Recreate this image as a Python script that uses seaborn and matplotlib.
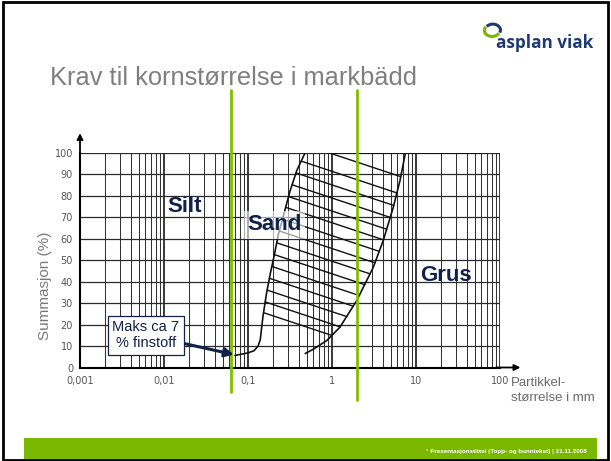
import numpy as np
import pandas as pd
import seaborn as sns
import matplotlib
matplotlib.use("Agg")
import matplotlib.pyplot as plt
from matplotlib.patches import Rectangle, Arc
from matplotlib.transforms import blended_transform_factory

# grensekurver for markbädd-sand
venstre_x = [0.07, 0.10, 0.118, 0.132, 0.14, 0.151, 0.167, 0.185, 0.205, 0.23, 0.27, 0.316, 0.38, 0.48]
venstre_y = [5.6, 6.8, 7.8, 10, 13, 24, 35, 44, 52, 62, 72, 82, 91.5, 100]
hoyre_x = [0.48, 0.6, 0.87, 1.24, 1.96, 3.1, 4.07, 5.37, 6.45, 7.5]
hoyre_y = [6.5, 8.5, 12.6, 18.7, 31, 46.6, 59, 74.6, 87, 100]
topp_x = [0.9, 60]
topp_y = [100, 100]

# skravur: startnivå på venstre kurve og helning (% per dekade)
skravur_nivaa = [96, 90.5, 85, 79.5, 74.5, 69, 63.5, 58, 52.5, 47, 41.5, 36, 30.5, 25.5]
skravur_helning = -13.0

# grenser silt/sand og sand/grus
grenser = [0.063, 2.0]

x_ticks = [0.001, 0.01, 0.1, 1, 10, 100]
x_labels = ["0,001", "0,01", "0,1", "1", "10", "100"]
y_ticks = list(range(0, 101, 10))

navy = "#10224a"
gronn = "#84bd00"

sns.set_style("white")
plt.rcParams['font.family'] = ['Liberation Sans', 'DejaVu Sans']

fig = plt.figure(figsize=(6.11, 4.61), dpi=100)
ax = fig.add_axes([80/611, 1-367.5/461, 420/611, 215/461])
ax.set_xscale("log")
ax.set_xlim(0.001, 100)
ax.set_ylim(0, 100)

# rutenett
ax.set_xticks(x_ticks)
ax.set_xticks([m*10.0**e for e in range(-3, 2) for m in range(2, 10)], minor=True)
ax.set_yticks(y_ticks)
ax.grid(True, which="major", axis="x", color="#2a2a2a", lw=1.3)
ax.grid(True, which="minor", axis="x", color="#333333", lw=0.75)
ax.grid(True, which="major", axis="y", color="#2a2a2a", lw=0.9)
ax.set_xticklabels(x_labels, family="DejaVu Sans", fontsize=7, color="#555555")
ax.set_yticklabels([str(v) for v in y_ticks], family="DejaVu Sans", fontsize=7, color="#555555")
ax.tick_params(axis="both", which="both", length=0)
ax.tick_params(axis="x", pad=6)
ax.tick_params(axis="y", pad=5)
ax.xaxis.set_minor_formatter(matplotlib.ticker.NullFormatter())
for s in ["top", "right"]:
    ax.spines[s].set_visible(False)
for s in ["left", "bottom"]:
    ax.spines[s].set_color("black")
    ax.spines[s].set_linewidth(1.5)

# pilspisser på aksene
ax.annotate("", xy=(0.001, 109), xytext=(0.001, 99), annotation_clip=False,
            arrowprops=dict(arrowstyle="-|>", color="black", lw=1.3, mutation_scale=9, shrinkA=0, shrinkB=0))
ax.annotate("", xy=(175, 0), xytext=(90, 0), annotation_clip=False,
            arrowprops=dict(arrowstyle="-|>", color="black", lw=1.3, mutation_scale=9, shrinkA=0, shrinkB=0))

# kurver
kurver = pd.DataFrame({
    "x": venstre_x + hoyre_x + topp_x,
    "y": venstre_y + hoyre_y + topp_y,
    "kurve": ["venstre"]*len(venstre_x) + ["hoyre"]*len(hoyre_x) + ["topp"]*len(topp_x),
})
sns.lineplot(data=kurver, x="x", y="y", units="kurve", estimator=None, sort=False,
             color="#111111", lw=1.2, ax=ax, legend=False)
ax.set_xlabel("")
ax.set_ylabel("")

# skravur mellom kurvene
lu = np.log10(venstre_x)
ru = np.log10(hoyre_x)
starter = [(np.log10(topp_x[0]), 100.0)] + [(np.interp(n, venstre_y, lu), n) for n in skravur_nivaa]
for u0, y0 in starter:
    uu = np.linspace(u0, 1.5, 600)
    g = y0 + skravur_helning*(uu - u0) - np.interp(uu, ru, hoyre_y, left=0, right=200)
    idx = np.argmax(g <= 0)
    u1 = uu[idx]
    ax.plot([10**u0, 10**u1], [y0, y0 + skravur_helning*(u1 - u0)], color="#111111", lw=1.0)

# grønne grenselinjer
tr = blended_transform_factory(ax.transData, fig.transFigure)
ax.plot([grenser[0]]*2, [1-90/461, 1-392/461], color=gronn, lw=2.0, transform=tr, clip_on=False, zorder=5)
ax.plot([grenser[1]]*2, [1-90/461, 1-400/461], color=gronn, lw=2.0, transform=tr, clip_on=False, zorder=5)

# tekster i diagrammet
ax.text(0.0178, 75, "Silt", fontsize=16, fontweight="bold", color=navy, ha="center", va="center")
ax.text(0.209, 66.3, "Sand", fontsize=16, fontweight="bold", color=navy, ha="center", va="center",
        bbox=dict(boxstyle="square,pad=0.15", fc="white", ec="none", alpha=0.6))
ax.text(22.8, 42.6, "Grus", fontsize=16, fontweight="bold", color=navy, ha="center", va="center")
ax.annotate("Maks ca 7\n% finstoff", xy=(0.068, 6), xytext=(0.0061, 15.1),
            fontsize=10.5, color=navy, ha="center", va="center",
            bbox=dict(boxstyle="square,pad=0.3", fc="white", ec=navy, lw=0.9),
            arrowprops=dict(arrowstyle="-|>", color=navy, lw=2.2, mutation_scale=13, shrinkA=0, shrinkB=0),
            zorder=6)

# aksetitler
fig.text(45/611, 1-286/461, "Summasjon (%)", rotation=90, fontsize=11, color="#7a7a7a", ha="center", va="center")
fig.text(511/611, 1-377/461, "Partikkel-\nstørrelse i mm", fontsize=9.5, color="#6a6a6a",
         ha="left", va="top", linespacing=1.35)

# tittel
fig.text(50/611, 1-85/461, "Krav til kornstørrelse i markbädd", fontsize=18.3, color="#7f7f7f", ha="left", va="baseline")

# logo
fig.text(496/611, 1-48/461, "asplan viak", fontsize=12.3, fontweight="bold", color="#1f3a6e",
         family=["Open Sans", "DejaVu Sans"], ha="left", va="baseline")
lax = fig.add_axes([481/611, 1-39/461, 22/611, 17/461])
lax.set_xlim(-1.3, 1.3)
lax.set_ylim(-1, 1)
lax.axis("off")
lax.add_patch(Arc((0, 0), 1.8, 1.4, theta1=150, theta2=340, color="#7ab800", lw=2.2))
lax.add_patch(Arc((0.1, 0.05), 1.8, 1.4, theta1=-20, theta2=150, color="#1f3a6e", lw=2.2))

# bunnlinje
fig.patches.append(Rectangle((24/611, 2/461), 573/611, 21/461, transform=fig.transFigure,
                             fc="#7ab800", ec="none", zorder=0))
fig.text(587/611, 1-451/461, "° Presentasjonstittel (Topp- og bunntekst) | 21.11.2008",
         fontsize=4.5, fontweight="bold", color="white", ha="right", va="center")

# ramme rundt lysbildet
fig.patches.append(Rectangle((3/611, 1/461), 605/611, 458/461, transform=fig.transFigure,
                             fill=False, ec="black", lw=2.0, zorder=10))

fig.savefig("out.png", dpi=100)
